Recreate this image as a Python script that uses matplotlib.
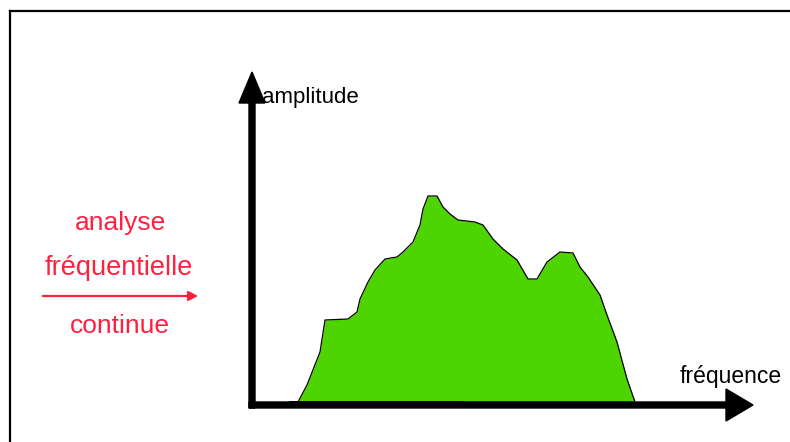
import matplotlib.pyplot as plt
from matplotlib.patches import FancyArrow

# spectrum sampled along the frequency axis (pixel frame, origin at axis corner)
freq = [297, 298, 307, 320, 325, 348, 357, 360, 368, 375, 385, 397, 403, 413, 420, 423,
        428, 437, 443, 450, 458, 475, 483, 493, 503, 517, 528, 537, 547, 560, 573, 580,
        588, 600, 607, 617, 627, 635, 636]
amp = [0, 3, 20, 53, 85, 86, 93, 106, 123, 135, 146, 148, 153, 163, 180, 196,
       209, 209, 198, 191, 185, 183, 180, 166, 156, 145, 126, 126, 143, 153, 152, 138,
       128, 110, 90, 63, 26, 3, 0]

x_label = 'fréquence'
y_label = 'amplitude'
side_top = ['analyse', 'fréquentielle']
side_bottom = 'continue'

W, H = 790, 442
fig = plt.figure(figsize=(W / 100, H / 100), dpi=100)
ax = fig.add_axes([0, 0, 1, 1])
ax.set_xlim(0, W)
ax.set_ylim(0, H)
ax.axis('off')

x0, y0 = 252, 37          # axis corner
green = '#4ed400'
red = '#ff2040'
font = ['Liberation Sans', 'DejaVu Sans']

# frame (left and top only)
ax.plot([10, 10], [0, 431], color='black', lw=1.6)
ax.plot([10, W], [431, 431], color='black', lw=1.6)

# spectrum
ys = [y0 + a for a in amp]
ax.fill_between(freq, y0, ys, color=green, lw=0, zorder=2)
ax.plot(freq, ys, color='black', lw=0.9, zorder=3)
ax.plot([290, 463], [y0 + 3, y0 + 3], color='black', lw=1.4, zorder=3)

# axes with arrows
ax.add_patch(FancyArrow(x0, y0 - 3, 0, 370 - y0 + 3, width=6, head_width=26,
                        head_length=31, length_includes_head=True,
                        color='black', zorder=4))
ax.add_patch(FancyArrow(x0 - 3, y0, 753 - x0 + 3, 0, width=6, head_width=32,
                        head_length=27, length_includes_head=True,
                        color='black', zorder=4))

ax.text(262, 339, y_label, fontsize=16, family=font, va='baseline', ha='left')
ax.text(680, 59, x_label, fontsize=16.5, family=font, va='baseline', ha='left')

# red side annotation
ax.text(121, 212, side_top[0], fontsize=19, family=font, color=red,
        va='baseline', ha='center')
ax.text(119, 167, side_top[1], fontsize=19.5, family=font, color=red,
        va='baseline', ha='center')
ax.annotate('', xy=(201, 146), xytext=(40, 146),
            arrowprops=dict(arrowstyle='-|>', color=red, lw=1.6,
                            mutation_scale=14))
ax.text(120, 109, side_bottom, fontsize=19, family=font, color=red,
        va='baseline', ha='center')

fig.savefig('out.png', dpi=100)
